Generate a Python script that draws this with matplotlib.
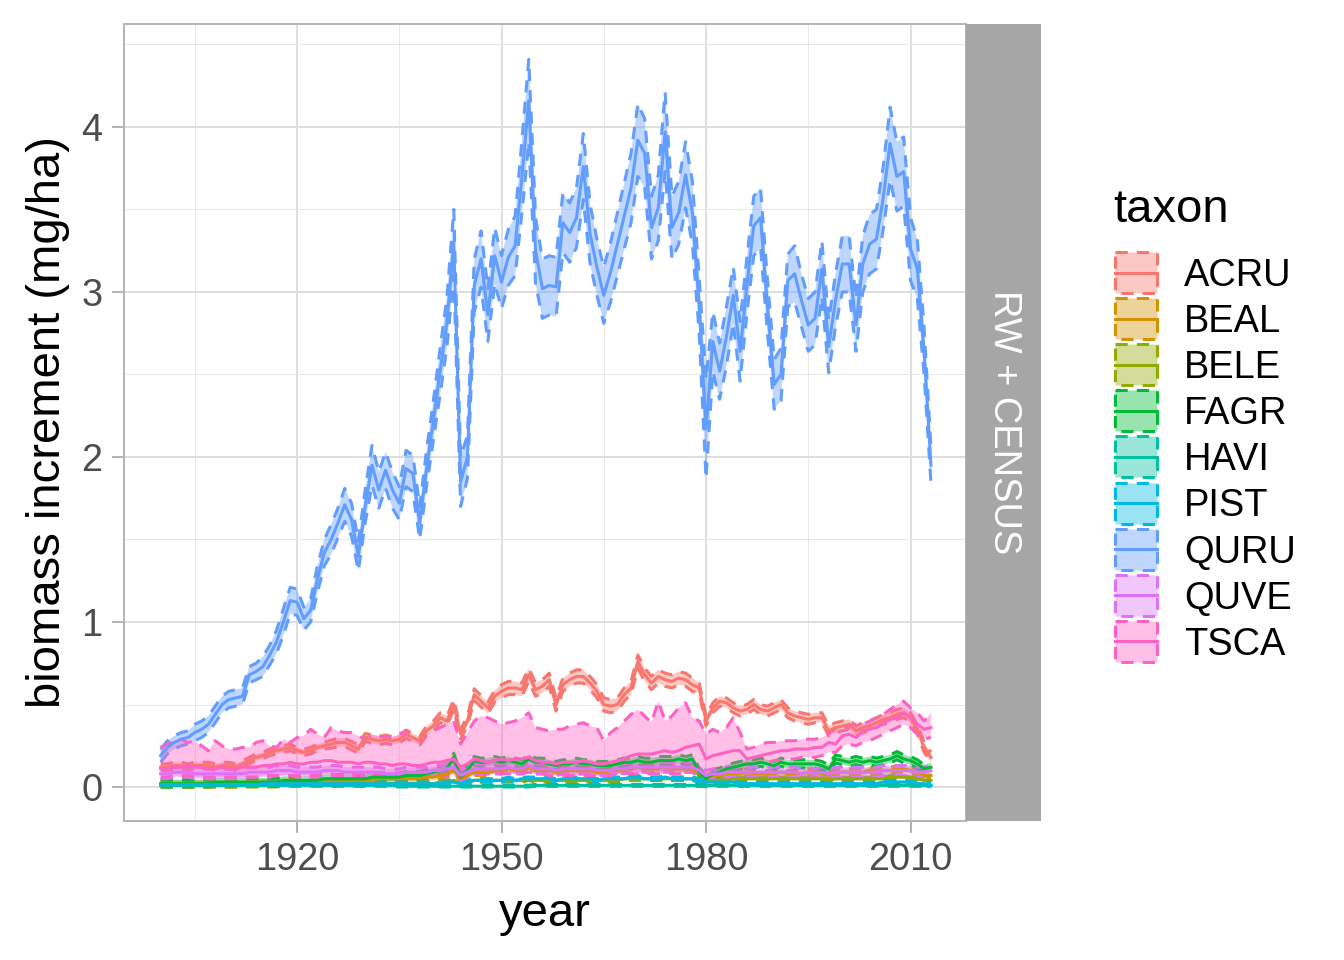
import numpy as np
import matplotlib
matplotlib.use("Agg")
from matplotlib import pyplot as plt
from matplotlib.patches import Rectangle
from matplotlib.colors import to_rgba

plt.rcParams['font.family'] = ['Liberation Sans', 'DejaVu Sans']

# ---- data ----
years = np.arange(1900, 2014)
taxa = ['ACRU', 'BEAL', 'BELE', 'FAGR', 'HAVI', 'PIST', 'QURU', 'QUVE', 'TSCA']
colors = ['#F8766D', '#D39200', '#93AA00', '#00BA38', '#00C19F',
          '#00B9E3', '#619CFF', '#DB72FB', '#FF61C3']

quru = [0.19, 0.24, 0.27, 0.29, 0.30, 0.33, 0.35, 0.38, 0.44, 0.50,
        0.53, 0.54, 0.55, 0.68, 0.70, 0.73, 0.80, 0.88, 1.00, 1.13,
        1.12, 1.02, 1.07, 1.26, 1.42, 1.50, 1.60, 1.71, 1.62, 1.40,
        1.70, 1.95, 1.80, 1.92, 1.80, 1.72, 1.93, 1.90, 1.60, 1.93,
        2.22, 2.52, 2.82, 3.30, 1.85, 2.00, 3.04, 3.20, 2.86, 3.22,
        3.06, 3.21, 3.28, 3.70, 4.16, 3.25, 3.02, 3.04, 3.03, 3.42,
        3.36, 3.45, 3.76, 3.35, 3.15, 2.98, 3.12, 3.29, 3.46, 3.63,
        3.92, 3.84, 3.39, 3.51, 3.97, 3.39, 3.48, 3.71, 3.48, 2.92,
        2.17, 2.70, 2.52, 2.73, 2.98, 2.64, 3.04, 3.40, 3.45, 2.92,
        2.44, 2.50, 3.07, 3.11, 2.95, 2.80, 2.84, 3.14, 2.67, 2.95,
        3.17, 3.17, 2.80, 3.17, 3.29, 3.32, 3.57, 3.90, 3.70, 3.73,
        3.26, 3.14, 2.64, 1.95]
quru_hw = [0.04, 0.04, 0.04, 0.04, 0.04, 0.05, 0.05, 0.05, 0.05, 0.05,
           0.05, 0.05, 0.05, 0.05, 0.05, 0.06, 0.06, 0.07, 0.08, 0.08,
           0.08, 0.07, 0.07, 0.08, 0.08, 0.09, 0.09, 0.10, 0.10, 0.09,
           0.10, 0.12, 0.11, 0.11, 0.11, 0.10, 0.11, 0.11, 0.10, 0.11,
           0.12, 0.14, 0.15, 0.20, 0.15, 0.13, 0.16, 0.17, 0.16, 0.17,
           0.16, 0.17, 0.18, 0.22, 0.25, 0.20, 0.18, 0.18, 0.18, 0.18,
           0.18, 0.18, 0.20, 0.18, 0.17, 0.17, 0.18, 0.19, 0.20, 0.21,
           0.22, 0.21, 0.19, 0.20, 0.24, 0.19, 0.19, 0.20, 0.19, 0.17,
           0.30, 0.18, 0.17, 0.18, 0.17, 0.18, 0.17, 0.18, 0.18, 0.16,
           0.15, 0.16, 0.16, 0.17, 0.16, 0.16, 0.16, 0.17, 0.16, 0.16,
           0.17, 0.17, 0.16, 0.17, 0.18, 0.18, 0.19, 0.22, 0.21, 0.21,
           0.19, 0.18, 0.14, 0.11]

acru = [0.12, 0.12, 0.13, 0.13, 0.12, 0.13, 0.13, 0.13, 0.12, 0.13,
        0.13, 0.12, 0.14, 0.16, 0.18, 0.19, 0.21, 0.22, 0.23, 0.24,
        0.22, 0.21, 0.22, 0.24, 0.25, 0.26, 0.27, 0.27, 0.25, 0.23,
        0.30, 0.29, 0.28, 0.29, 0.28, 0.29, 0.32, 0.30, 0.28, 0.34,
        0.37, 0.42, 0.40, 0.50, 0.32, 0.40, 0.56, 0.52, 0.48, 0.55,
        0.58, 0.60, 0.60, 0.59, 0.68, 0.59, 0.61, 0.65, 0.50, 0.62,
        0.65, 0.67, 0.67, 0.63, 0.58, 0.50, 0.49, 0.50, 0.56, 0.60,
        0.76, 0.68, 0.63, 0.67, 0.65, 0.64, 0.66, 0.65, 0.62, 0.60,
        0.40, 0.48, 0.52, 0.51, 0.48, 0.46, 0.47, 0.50, 0.47, 0.46,
        0.48, 0.50, 0.45, 0.43, 0.42, 0.41, 0.42, 0.42, 0.34, 0.36,
        0.37, 0.38, 0.34, 0.36, 0.37, 0.39, 0.41, 0.42, 0.44, 0.45,
        0.42, 0.35, 0.24, 0.18]
acru_hw = [0.02, 0.02, 0.02, 0.02, 0.02, 0.02, 0.02, 0.02, 0.02, 0.02,
           0.02, 0.02, 0.02, 0.02, 0.02, 0.02, 0.02, 0.02, 0.02, 0.02,
           0.02, 0.02, 0.02, 0.02, 0.02, 0.025, 0.025, 0.025, 0.025, 0.025,
           0.025, 0.025, 0.025, 0.025, 0.025, 0.025, 0.025, 0.025, 0.025, 0.03,
           0.03, 0.03, 0.03, 0.03, 0.03, 0.03, 0.035, 0.035, 0.035, 0.035,
           0.04, 0.04, 0.04, 0.04, 0.04, 0.04, 0.04, 0.04, 0.04, 0.04,
           0.04, 0.04, 0.04, 0.04, 0.04, 0.04, 0.04, 0.04, 0.04, 0.04,
           0.04, 0.04, 0.04, 0.04, 0.04, 0.04, 0.04, 0.04, 0.04, 0.03,
           0.03, 0.03, 0.03, 0.03, 0.03, 0.03, 0.03, 0.03, 0.03, 0.03,
           0.03, 0.03, 0.03, 0.03, 0.03, 0.03, 0.03, 0.03, 0.03, 0.03,
           0.03, 0.03, 0.03, 0.03, 0.03, 0.03, 0.03, 0.03, 0.03, 0.03,
           0.03, 0.03, 0.03, 0.03]

tsca = [0.11, 0.11, 0.12, 0.12, 0.13, 0.12, 0.12, 0.11, 0.11, 0.12,
        0.11, 0.11, 0.12, 0.12, 0.12, 0.13, 0.13, 0.14, 0.14, 0.15,
        0.14, 0.14, 0.15, 0.15, 0.16, 0.16, 0.15, 0.15, 0.15, 0.14,
        0.15, 0.15, 0.14, 0.14, 0.13, 0.14, 0.14, 0.13, 0.13, 0.14,
        0.15, 0.15, 0.16, 0.17, 0.12, 0.14, 0.17, 0.16, 0.15, 0.16,
        0.17, 0.16, 0.17, 0.17, 0.18, 0.16, 0.15, 0.15, 0.14, 0.15,
        0.15, 0.15, 0.16, 0.15, 0.14, 0.14, 0.15, 0.16, 0.17, 0.19,
        0.20, 0.20, 0.20, 0.21, 0.22, 0.21, 0.22, 0.24, 0.25, 0.26,
        0.17, 0.19, 0.20, 0.21, 0.22, 0.22, 0.17, 0.18, 0.19, 0.20,
        0.21, 0.22, 0.22, 0.23, 0.23, 0.23, 0.24, 0.24, 0.27, 0.26,
        0.31, 0.32, 0.30, 0.34, 0.35, 0.36, 0.39, 0.41, 0.42, 0.45,
        0.42, 0.38, 0.35, 0.36]
tsca_hi = [0.24, 0.26, 0.28, 0.29, 0.27, 0.28, 0.25, 0.22, 0.28, 0.25,
           0.23, 0.23, 0.24, 0.24, 0.27, 0.28, 0.25, 0.24, 0.29, 0.27,
           0.30, 0.31, 0.35, 0.32, 0.30, 0.36, 0.34, 0.33, 0.33, 0.31,
           0.29, 0.32, 0.31, 0.30, 0.30, 0.32, 0.34, 0.30, 0.28, 0.32,
           0.34, 0.36, 0.38, 0.40, 0.26, 0.33, 0.40, 0.43, 0.42, 0.40,
           0.38, 0.39, 0.40, 0.42, 0.45, 0.36, 0.35, 0.34, 0.35, 0.35,
           0.37, 0.38, 0.39, 0.37, 0.36, 0.28, 0.33, 0.36, 0.40, 0.44,
           0.47, 0.43, 0.39, 0.52, 0.40, 0.43, 0.48, 0.51, 0.42, 0.40,
           0.32, 0.35, 0.33, 0.36, 0.42, 0.33, 0.23, 0.24, 0.26, 0.27,
           0.27, 0.28, 0.28, 0.28, 0.29, 0.29, 0.29, 0.30, 0.32, 0.36,
           0.35, 0.37, 0.38, 0.38, 0.40, 0.42, 0.44, 0.47, 0.50, 0.52,
           0.48, 0.45, 0.40, 0.45]
tsca_lo = [0.06, 0.06, 0.07, 0.07, 0.07, 0.06, 0.06, 0.06, 0.06, 0.06,
           0.06, 0.06, 0.06, 0.06, 0.06, 0.07, 0.07, 0.07, 0.07, 0.07,
           0.07, 0.07, 0.07, 0.07, 0.08, 0.08, 0.07, 0.07, 0.07, 0.07,
           0.07, 0.07, 0.07, 0.07, 0.06, 0.06, 0.06, 0.06, 0.06, 0.06,
           0.07, 0.07, 0.07, 0.08, 0.05, 0.06, 0.08, 0.08, 0.08, 0.08,
           0.08, 0.08, 0.08, 0.08, 0.09, 0.08, 0.08, 0.07, 0.07, 0.07,
           0.07, 0.07, 0.07, 0.07, 0.07, 0.07, 0.07, 0.08, 0.08, 0.08,
           0.08, 0.08, 0.08, 0.08, 0.08, 0.08, 0.08, 0.09, 0.09, 0.09,
           0.06, 0.07, 0.08, 0.08, 0.08, 0.08, 0.13, 0.14, 0.15, 0.15,
           0.16, 0.16, 0.17, 0.17, 0.18, 0.18, 0.18, 0.19, 0.21, 0.21,
           0.25, 0.26, 0.25, 0.27, 0.28, 0.30, 0.32, 0.34, 0.36, 0.38,
           0.36, 0.32, 0.29, 0.30]

fagr = [0.02, 0.02, 0.02, 0.02, 0.02, 0.02, 0.02, 0.02, 0.03, 0.03,
        0.03, 0.03, 0.03, 0.03, 0.03, 0.03, 0.03, 0.03, 0.04, 0.04,
        0.04, 0.04, 0.04, 0.04, 0.05, 0.05, 0.05, 0.05, 0.05, 0.05,
        0.05, 0.06, 0.06, 0.06, 0.06, 0.06, 0.07, 0.07, 0.07, 0.08,
        0.09, 0.10, 0.11, 0.18, 0.06, 0.10, 0.16, 0.15, 0.15, 0.16,
        0.15, 0.16, 0.15, 0.14, 0.17, 0.15, 0.15, 0.14, 0.13, 0.14,
        0.14, 0.15, 0.14, 0.14, 0.13, 0.13, 0.13, 0.14, 0.15, 0.15,
        0.16, 0.15, 0.15, 0.16, 0.16, 0.16, 0.17, 0.16, 0.17, 0.09,
        0.05, 0.08, 0.09, 0.11, 0.12, 0.13, 0.14, 0.14, 0.15, 0.14,
        0.13, 0.15, 0.14, 0.14, 0.14, 0.14, 0.14, 0.13, 0.11, 0.17,
        0.16, 0.15, 0.16, 0.15, 0.16, 0.15, 0.16, 0.17, 0.19, 0.17,
        0.16, 0.14, 0.11, 0.12]
beal = [0.02, 0.02, 0.02, 0.02, 0.02, 0.02, 0.02, 0.02, 0.02, 0.02,
        0.02, 0.02, 0.02, 0.03, 0.03, 0.03, 0.03, 0.03, 0.03, 0.03,
        0.03, 0.03, 0.03, 0.03, 0.04, 0.04, 0.04, 0.04, 0.04, 0.04,
        0.04, 0.04, 0.05, 0.05, 0.05, 0.05, 0.05, 0.05, 0.05, 0.06,
        0.06, 0.07, 0.08, 0.10, 0.05, 0.07, 0.09, 0.09, 0.09, 0.10,
        0.10, 0.11, 0.10, 0.10, 0.12, 0.10, 0.10, 0.10, 0.09, 0.10,
        0.10, 0.10, 0.10, 0.10, 0.09, 0.09, 0.10, 0.10, 0.11, 0.11,
        0.12, 0.11, 0.11, 0.11, 0.12, 0.11, 0.11, 0.11, 0.11, 0.08,
        0.05, 0.07, 0.07, 0.08, 0.08, 0.08, 0.09, 0.08, 0.08, 0.08,
        0.08, 0.09, 0.08, 0.08, 0.08, 0.09, 0.08, 0.08, 0.07, 0.09,
        0.09, 0.09, 0.09, 0.09, 0.10, 0.09, 0.10, 0.10, 0.11, 0.11,
        0.10, 0.09, 0.07, 0.07]
bele = [0.01, 0.01, 0.01, 0.01, 0.01, 0.01, 0.01, 0.01, 0.01, 0.01,
        0.01, 0.01, 0.01, 0.01, 0.01, 0.01, 0.01, 0.01, 0.02, 0.02,
        0.02, 0.02, 0.02, 0.02, 0.02, 0.02, 0.02, 0.02, 0.02, 0.02,
        0.02, 0.02, 0.02, 0.02, 0.02, 0.02, 0.02, 0.02, 0.02, 0.02,
        0.02, 0.03, 0.03, 0.04, 0.02, 0.03, 0.04, 0.04, 0.04, 0.04,
        0.04, 0.04, 0.04, 0.04, 0.05, 0.04, 0.04, 0.04, 0.04, 0.04,
        0.04, 0.04, 0.04, 0.04, 0.04, 0.04, 0.04, 0.04, 0.05, 0.05,
        0.05, 0.05, 0.05, 0.05, 0.05, 0.05, 0.05, 0.05, 0.05, 0.04,
        0.03, 0.04, 0.04, 0.04, 0.05, 0.05, 0.05, 0.05, 0.05, 0.05,
        0.05, 0.05, 0.05, 0.05, 0.05, 0.05, 0.05, 0.05, 0.04, 0.05,
        0.05, 0.05, 0.05, 0.05, 0.05, 0.05, 0.05, 0.06, 0.06, 0.06,
        0.05, 0.05, 0.04, 0.04]
havi = [0.01, 0.01, 0.01, 0.01, 0.01, 0.01, 0.01, 0.01, 0.01, 0.01,
        0.01, 0.01, 0.01, 0.01, 0.01, 0.01, 0.01, 0.01, 0.01, 0.01,
        0.01, 0.01, 0.01, 0.01, 0.01, 0.01, 0.01, 0.01, 0.01, 0.01,
        0.01, 0.01, 0.01, 0.01, 0.01, 0.005, 0.005, 0.005, 0.005, 0.005,
        0.005, 0.005, 0.005, 0.005, 0.005, 0.005, 0.005, 0.005, 0.005, 0.005,
        0.005, 0.005, 0.005, 0.005, 0.005, 0.01, 0.01, 0.01, 0.01, 0.01,
        0.01, 0.01, 0.01, 0.01, 0.01, 0.01, 0.01, 0.01, 0.01, 0.01,
        0.01, 0.01, 0.01, 0.01, 0.01, 0.01, 0.01, 0.01, 0.01, 0.01,
        0.008, 0.01, 0.01, 0.01, 0.01, 0.01, 0.01, 0.01, 0.01, 0.01,
        0.01, 0.01, 0.01, 0.01, 0.01, 0.01, 0.01, 0.01, 0.01, 0.01,
        0.01, 0.01, 0.01, 0.01, 0.01, 0.01, 0.01, 0.01, 0.01, 0.01,
        0.01, 0.01, 0.01, 0.01]
pist = [0.015, 0.015, 0.015, 0.015, 0.015, 0.015, 0.015, 0.015, 0.015, 0.015,
        0.015, 0.015, 0.015, 0.015, 0.015, 0.02, 0.02, 0.02, 0.02, 0.02,
        0.02, 0.02, 0.02, 0.02, 0.02, 0.02, 0.02, 0.02, 0.02, 0.02,
        0.02, 0.02, 0.02, 0.02, 0.02, 0.02, 0.02, 0.02, 0.02, 0.02,
        0.02, 0.02, 0.03, 0.03, 0.02, 0.03, 0.04, 0.04, 0.04, 0.04,
        0.04, 0.05, 0.04, 0.05, 0.05, 0.05, 0.05, 0.05, 0.04, 0.05,
        0.05, 0.05, 0.05, 0.05, 0.04, 0.05, 0.05, 0.05, 0.05, 0.06,
        0.06, 0.05, 0.05, 0.05, 0.06, 0.05, 0.05, 0.05, 0.05, 0.04,
        0.03, 0.03, 0.03, 0.03, 0.03, 0.02, 0.02, 0.02, 0.02, 0.02,
        0.02, 0.02, 0.02, 0.02, 0.02, 0.02, 0.02, 0.02, 0.02, 0.02,
        0.02, 0.02, 0.02, 0.02, 0.02, 0.02, 0.03, 0.03, 0.03, 0.03,
        0.03, 0.02, 0.02, 0.01]
quve = [0.08, 0.08, 0.09, 0.09, 0.09, 0.08, 0.08, 0.08, 0.08, 0.08,
        0.08, 0.08, 0.08, 0.09, 0.09, 0.09, 0.09, 0.10, 0.10, 0.10,
        0.09, 0.09, 0.09, 0.09, 0.10, 0.10, 0.10, 0.09, 0.09, 0.09,
        0.09, 0.09, 0.09, 0.08, 0.08, 0.08, 0.09, 0.09, 0.09, 0.09,
        0.10, 0.10, 0.11, 0.12, 0.07, 0.09, 0.11, 0.11, 0.11, 0.11,
        0.11, 0.12, 0.11, 0.11, 0.13, 0.11, 0.11, 0.11, 0.10, 0.11,
        0.11, 0.11, 0.11, 0.11, 0.10, 0.10, 0.10, 0.11, 0.11, 0.12,
        0.12, 0.12, 0.12, 0.12, 0.12, 0.12, 0.12, 0.12, 0.12, 0.10,
        0.07, 0.08, 0.08, 0.09, 0.09, 0.09, 0.09, 0.09, 0.09, 0.09,
        0.09, 0.09, 0.09, 0.09, 0.08, 0.09, 0.08, 0.09, 0.08, 0.09,
        0.09, 0.09, 0.09, 0.09, 0.09, 0.09, 0.10, 0.10, 0.10, 0.10,
        0.10, 0.09, 0.09, 0.10]
# ribbon half-widths for the small taxa
minor_hw = {'BEAL': 0.02, 'BELE': 0.01, 'FAGR': 0.025, 'HAVI': 0.006,
            'PIST': 0.01, 'QUVE': 0.03}

# ---- assemble mean / lower / upper per taxon ----
means = {'ACRU': acru, 'BEAL': beal, 'BELE': bele, 'FAGR': fagr, 'HAVI': havi,
         'PIST': pist, 'QURU': quru, 'QUVE': quve, 'TSCA': tsca}
bands = {}
for t in taxa:
    m = np.array(means[t])
    assert len(m) == len(years), t
    if t == 'QURU':
        hw = np.array(quru_hw)
        bands[t] = (m - hw, m + hw)
    elif t == 'ACRU':
        hw = np.array(acru_hw)
        bands[t] = (m - hw, m + hw)
    elif t == 'TSCA':
        bands[t] = (np.array(tsca_lo), np.array(tsca_hi))
    else:
        bands[t] = (np.clip(m - minor_hw[t], 0, None), m + minor_hw[t])

# ---- figure ----
W, H = 1344, 960
fig = plt.figure(figsize=(W / 200, H / 200), dpi=200)
px = lambda x0, y0, x1, y1: [x0 / W, 1 - y1 / H, (x1 - x0) / W, (y1 - y0) / H]
ax = fig.add_axes(px(124, 24, 966, 821))
strip = fig.add_axes(px(966, 24, 1041, 821))

lw = 1.1
dash = (0, (4, 3))
for t, c in zip(taxa, colors):
    lo, hi = bands[t]
    ax.fill_between(years, lo, hi, facecolor=to_rgba(c, 0.4), edgecolor='none', zorder=2)
    ax.plot(years, lo, color=c, lw=lw, linestyle=dash, zorder=2)
    ax.plot(years, hi, color=c, lw=lw, linestyle=dash, zorder=2)
for t, c in zip(taxa, colors):
    ax.plot(years, means[t], color=c, lw=lw, zorder=3)

ax.set_xlim(1894.62, 2018.14)
ax.set_ylim(-0.206, 4.624)
ax.set_xticks([1920, 1950, 1980, 2010])
ax.set_xticks([1905, 1935, 1965, 1995], minor=True)
ax.set_yticks([0, 1, 2, 3, 4])
ax.set_yticks([0.5, 1.5, 2.5, 3.5, 4.5], minor=True)
ax.grid(which='major', color='#DEDEDE', lw=0.7, zorder=0)
ax.grid(which='minor', color='#E8E8E8', lw=0.35, zorder=0)
ax.set_axisbelow(True)
for s in ax.spines.values():
    s.set_color('#B3B3B3')
    s.set_linewidth(0.7)
ax.tick_params(which='major', length=4.3, width=0.7, color='#B3B3B3',
               labelcolor='#4D4D4D', labelsize=13.7, pad=3.4)
ax.tick_params(which='minor', length=0)
ax.set_xlabel('year', fontsize=17, labelpad=5)
ax.set_ylabel('biomass increment (mg/ha)', fontsize=17, labelpad=4)

strip.set_facecolor('#A6A6A6')
strip.set_xticks([])
strip.set_yticks([])
for s in strip.spines.values():
    s.set_visible(False)
strip.text(0.5, 0.5, 'RW + CENSUS', rotation=-90, color='white', fontsize=13.7,
           ha='center', va='center', transform=strip.transAxes)

# legend drawn by hand in pixel space so the key sizes match ggplot
lg = fig.add_axes([0, 0, 1, 1])
lg.set_xlim(0, W)
lg.set_ylim(H, 0)
lg.axis('off')
lg.text(1113, 222, 'taxon', fontsize=17, ha='left', va='baseline')
for i, (t, c) in enumerate(zip(taxa, colors)):
    cy = 272.5 + i * 46.1
    lg.add_patch(Rectangle((1115, cy - 20.5), 42, 41, facecolor=to_rgba(c, 0.4),
                           edgecolor=c, lw=lw, linestyle=dash))
    lg.plot([1115, 1157], [cy, cy], color=c, lw=lw)
    lg.text(1184, cy + 13.5, t, fontsize=13.7, ha='left', va='baseline')

fig.savefig('out.png', dpi=200)
